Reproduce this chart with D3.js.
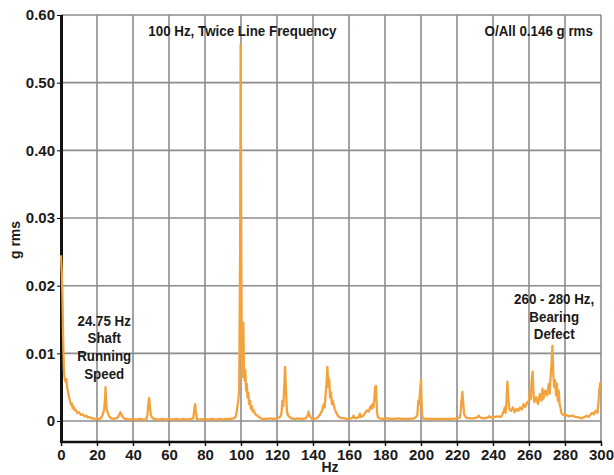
<html>
<head>
    <meta charset="utf-8">
    <title>Vibration spectrum</title>
    <style>
        body { margin: 0; background: #fff; }
        text { font-family: "Liberation Sans", Arial, sans-serif; font-weight: bold; fill: #1a1a1a; }
        .grid line { stroke: #8c8c8c; stroke-width: 1.6px; }
    </style>
</head>
<body>
    <svg width="614" height="475"></svg>
    <script src="https://d3js.org/d3.v7.min.js"></script>
    <script>
        // tick positions (g rms) and the labels printed on the original
        var yTicks = [0, 0.01, 0.02, 0.03, 0.04, 0.05, 0.06];
        var yTickLabels = ["0", "0.01", "0.02", "0.03", "0.40", "0.50", "0.60"];
        var xTicks = [0, 20, 40, 60, 80, 100, 120, 140, 160, 180, 200, 220, 240, 260, 280, 300];

        // spectrum: [Hz, g rms]
        var spectrum = [
            [0, 0.0245], [0.4, 0.022], [0.8, 0.0185], [1.2, 0.012], [1.6, 0.0075], [2, 0.0064], [2.5, 0.0058],
            [3, 0.0062], [3.5, 0.0048], [4, 0.0042], [4.5, 0.0035], [5, 0.0030], [5.5, 0.0024], [6, 0.0026],
            [6.5, 0.0019], [7, 0.0021], [7.5, 0.0016], [8, 0.0017], [9, 0.0012], [10, 0.0013], [11, 0.0009],
            [12, 0.0010], [13, 0.0007], [14, 0.0008], [15, 0.0005], [16, 0.0006], [17, 0.0004], [18, 0.0004],
            [19, 0.0003], [20, 0.0003], [21, 0.0003], [22, 0.0004], [23, 0.0008], [23.5, 0.0012], [24, 0.0018],
            [24.5, 0.0035], [24.75, 0.0050], [25, 0.0030], [25.5, 0.0016], [26, 0.0012], [26.5, 0.0009],
            [27, 0.0006], [28, 0.0004], [29, 0.0003], [30, 0.0004], [31, 0.0004], [32, 0.0007], [33, 0.0013],
            [34, 0.0007], [35, 0.0004], [36, 0.0003], [38, 0.0002], [40, 0.0003], [42, 0.0002], [44, 0.0003],
            [46, 0.0002], [47.5, 0.0003], [48, 0.0009], [48.5, 0.0025], [49, 0.0034], [49.5, 0.0018], [50, 0.0008],
            [51, 0.0004], [52, 0.0003], [54, 0.0002], [56, 0.0003], [58, 0.0002], [60, 0.0003], [62, 0.0002],
            [64, 0.0003], [66, 0.0002], [68, 0.0003], [70, 0.0002], [72, 0.0003], [73.5, 0.0004], [74, 0.0016],
            [74.5, 0.0025], [75, 0.0012], [75.5, 0.0003], [77, 0.0002], [80, 0.0003], [82, 0.0002], [84, 0.0003],
            [86, 0.0002], [88, 0.0003], [90, 0.0002], [92, 0.0003], [94, 0.0003], [96, 0.0004], [97, 0.0006],
            [97.5, 0.0012], [98, 0.0022], [98.5, 0.0030], [99, 0.0048], [99.5, 0.025], [99.8, 0.0556],
            [100.1, 0.030], [100.4, 0.011], [100.7, 0.0065], [101, 0.0095], [101.3, 0.0145], [101.6, 0.0085],
            [102, 0.0060], [102.4, 0.0075], [102.8, 0.0045], [103.2, 0.0055], [103.6, 0.0035], [104, 0.0042],
            [104.5, 0.0025], [105, 0.0030], [105.5, 0.0018], [106, 0.0022], [106.5, 0.0014], [107, 0.0016],
            [108, 0.0010], [109, 0.0008], [110, 0.0006], [111, 0.0004], [112, 0.0003], [114, 0.0003],
            [116, 0.0004], [118, 0.0003], [120, 0.0004], [121, 0.0005], [122, 0.0007], [122.5, 0.0012],
            [123, 0.0030], [123.5, 0.0022], [124, 0.0050], [124.5, 0.0080], [125, 0.0045], [125.5, 0.0015],
            [126, 0.0009], [127, 0.0006], [128, 0.0004], [130, 0.0003], [132, 0.0004], [134, 0.0003],
            [136, 0.0004], [137, 0.0008], [137.5, 0.0014], [138, 0.0009], [139, 0.0004], [140, 0.0003],
            [142, 0.0004], [143, 0.0006], [144, 0.0010], [145, 0.0015], [146, 0.0025], [146.5, 0.0020],
            [147, 0.0040], [147.5, 0.0055], [148, 0.0080], [148.5, 0.0050], [149, 0.0062], [149.5, 0.0035],
            [150, 0.0042], [150.5, 0.0025], [151, 0.0030], [152, 0.0018], [153, 0.0012], [154, 0.0007],
            [155, 0.0005], [157, 0.0004], [159, 0.0003], [161, 0.0004], [162, 0.0005], [162.5, 0.0008],
            [163, 0.0005], [164, 0.0004], [165.5, 0.0006], [166, 0.0011], [166.5, 0.0006], [168, 0.0008],
            [169, 0.0012], [170, 0.0016], [171, 0.0014], [172, 0.0022], [172.5, 0.0018], [173, 0.0025],
            [173.5, 0.0020], [174, 0.0030], [174.5, 0.0050], [175, 0.0052], [175.3, 0.0030], [175.6, 0.0012],
            [176, 0.0006], [177, 0.0004], [179, 0.0003], [181, 0.0004], [184, 0.0003], [187, 0.0004],
            [190, 0.0003], [193, 0.0003], [196, 0.0004], [197, 0.0005], [198, 0.0009], [198.5, 0.0030],
            [199, 0.0025], [199.5, 0.0045], [200, 0.0062], [200.3, 0.0030], [200.6, 0.0009], [201, 0.0004],
            [203, 0.0003], [206, 0.0003], [209, 0.0003], [212, 0.0003], [215, 0.0003], [218, 0.0003],
            [220, 0.0004], [221.5, 0.0005], [222, 0.0012], [222.5, 0.0030], [223, 0.0043], [223.5, 0.0025],
            [224, 0.0010], [225, 0.0005], [227, 0.0004], [229, 0.0004], [231, 0.0005], [232, 0.0008],
            [233, 0.0005], [235, 0.0004], [237, 0.0005], [238, 0.0007], [239, 0.0005], [241, 0.0006],
            [243, 0.0007], [244, 0.0006], [245, 0.0008], [246, 0.0015], [246.5, 0.0020], [247, 0.0012],
            [247.5, 0.0030], [248, 0.0058], [248.5, 0.0035], [249, 0.0018], [250, 0.0015], [251, 0.0020],
            [252, 0.0013], [253, 0.0018], [254, 0.0015], [255, 0.0020], [256, 0.0017], [257, 0.0025],
            [258, 0.0021], [259, 0.0028], [260, 0.0030], [260.5, 0.0045], [261, 0.0032], [261.5, 0.0060],
            [262, 0.0073], [262.5, 0.0040], [263, 0.0028], [264, 0.0035], [265, 0.0025], [266, 0.0040],
            [267, 0.0030], [267.5, 0.0048], [268, 0.0033], [269, 0.0045], [270, 0.0038], [271, 0.0055],
            [271.5, 0.0040], [272, 0.0065], [272.5, 0.0085], [273, 0.0111], [273.5, 0.0070], [274, 0.0050],
            [274.5, 0.0060], [275, 0.0038], [275.5, 0.0055], [276, 0.0030], [276.5, 0.0045], [277, 0.0025],
            [277.5, 0.0020], [278, 0.0012], [279, 0.0009], [280, 0.0010], [282, 0.0007], [284, 0.0008],
            [286, 0.0006], [288, 0.0005], [289, 0.0004], [291, 0.0006], [292, 0.0008], [293, 0.0006],
            [294, 0.0009], [295, 0.0012], [296, 0.0010], [297, 0.0015], [298, 0.0012], [298.5, 0.0025],
            [299, 0.0045], [299.5, 0.0055], [300, 0.0058]
        ];

        // callouts: anchor Hz, g rms of first line, lines
        var notes = [
            { x: 24, y: 0.0141, lines: ["24.75 Hz", "Shaft", "Running", "Speed"] },
            { x: 274, y: 0.0173, lines: ["260 - 280 Hz,", "Bearing", "Defect"] }
        ];
        var titleNote = "100 Hz, Twice Line Frequency";
        var overallNote = "O/All 0.146 g rms";

        var svg = d3.select("svg");
        var margin = { top: 15, right: 12, bottom: 33, left: 61 };
        var width = 614 - margin.left - margin.right, height = 475 - margin.top - margin.bottom;

        var x = d3.scaleLinear().domain([0, 300]).range([0, 540]);
        var y = d3.scaleLinear().domain([-0.0031, 0.06]).range([height, 0]);

        var g = svg.append("g").attr("transform", "translate(" + margin.left + "," + margin.top + ")");

        // squeeze text horizontally to mimic the condensed face of the original
        function condense(sel, k) {
            sel.each(function () {
                var w = this.getComputedTextLength();
                d3.select(this).attr("textLength", w * k).attr("lengthAdjust", "spacingAndGlyphs");
            });
        }

        // grid
        var grid = g.append("g").attr("class", "grid");
        grid.selectAll(".v").data(xTicks.slice(1)).enter().append("line")
            .attr("x1", function (d) { return x(d); }).attr("x2", function (d) { return x(d); })
            .attr("y1", 0).attr("y2", height);
        grid.selectAll(".h").data(yTicks).enter().append("line")
            .attr("x1", 0).attr("x2", x(300))
            .attr("y1", function (d) { return y(d); }).attr("y2", function (d) { return y(d); });

        // axes
        var yAxis = g.append("g")
            .call(d3.axisLeft(y).tickValues(yTicks).tickSize(4).tickPadding(2)
                .tickFormat(function (d, i) { return yTickLabels[i]; }));
        yAxis.select(".domain").remove();
        yAxis.selectAll("text").style("font-size", "15px");

        var xAxis = g.append("g").attr("transform", "translate(0," + height + ")")
            .call(d3.axisBottom(x).tickValues(xTicks).tickSize(4).tickPadding(3).tickFormat(d3.format("d")));
        xAxis.select(".domain").remove();
        xAxis.selectAll("text").style("font-size", "15px");
        xAxis.selectAll("line").attr("stroke", "#111").attr("stroke-width", 1.5);

        g.append("line").attr("x1", 0).attr("x2", x(300) + 1).attr("y1", height).attr("y2", height)
            .attr("stroke", "#111").attr("stroke-width", 2.5);
        g.append("line").attr("x1", 0.5).attr("x2", 0.5).attr("y1", 0).attr("y2", height + 1)
            .attr("stroke", "#111").attr("stroke-width", 3);

        // spectrum trace
        var line = d3.line().x(function (d) { return x(d[0]); }).y(function (d) { return y(d[1]); });
        g.append("path").datum(spectrum)
            .attr("fill", "none").attr("stroke", "#f4a23c").attr("stroke-width", 2.3)
            .attr("stroke-linejoin", "round").attr("d", line);

        // text
        var labels = g.append("g").style("font-size", "15px");
        labels.append("text").attr("x", x(48.5)).attr("y", y(0.0569)).text(titleNote);
        labels.append("text").attr("x", x(295.5)).attr("y", y(0.0569)).attr("text-anchor", "end").text(overallNote);

        notes.forEach(function (n) {
            labels.selectAll(null).data(n.lines).enter().append("text")
                .attr("text-anchor", "middle")
                .attr("x", x(n.x))
                .attr("y", function (d, i) { return y(n.y) + i * 17.7; })
                .text(function (d) { return d; });
        });
        condense(labels.selectAll("text"), 0.89);

        svg.append("text").attr("x", 330).attr("y", 472).attr("text-anchor", "middle")
            .style("font-size", "14px").text("Hz");
        svg.append("text").attr("transform", "translate(20,240) rotate(-90)").attr("text-anchor", "middle")
            .style("font-size", "14px").text("g rms");
    </script>
</body>
</html>
